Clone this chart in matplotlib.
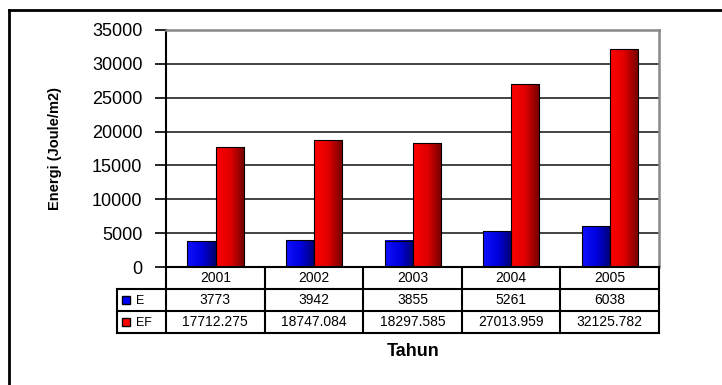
import numpy as np
import matplotlib.pyplot as plt
from matplotlib.lines import Line2D
from matplotlib.patches import Rectangle
from matplotlib.colors import LinearSegmentedColormap

# data
years = ['2001', '2002', '2003', '2004', '2005']
e_vals = [3773, 3942, 3855, 5261, 6038]
ef_vals = [17712.275, 18747.084, 18297.585, 27013.959, 32125.782]
e_text = ['3773', '3942', '3855', '5261', '6038']
ef_text = ['17712.275', '18747.084', '18297.585', '27013.959', '32125.782']
series = ['E', 'EF']

plt.rcParams['font.family'] = ['Liberation Sans', 'DejaVu Sans']

W, H = 722, 385
fig = plt.figure(figsize=(7.22, 3.85), dpi=100)


def box(x0, y0, x1, y1):
    # pixel box (top-left origin) -> figure fraction
    return [x0 / W, 1 - y1 / H, (x1 - x0) / W, (y1 - y0) / H]


blue_cm = LinearSegmentedColormap.from_list('b', ['#1010ff', '#0000e0', '#000070'])
red_cm = LinearSegmentedColormap.from_list('r', ['#ff0000', '#e00000', '#700000'])
grad = np.linspace(0, 1, 64).reshape(1, -1)

ax = fig.add_axes(box(166, 30, 659, 267))
x = np.arange(len(years))
bw = 0.285
offs = [-0.14, 0.145]

for vals, off, cm in [(e_vals, offs[0], blue_cm), (ef_vals, offs[1], red_cm)]:
    for xi, v in zip(x, vals):
        ax.imshow(grad, extent=[xi + off - bw / 2, xi + off + bw / 2, 0, v],
                  cmap=cm, aspect='auto', zorder=2)
    ax.bar(x + off, vals, width=bw, fill=False, edgecolor='black', lw=0.8, zorder=3)

ax.set_xlim(-0.5, 4.5)
ax.set_ylim(0, 35000)
ax.set_yticks(range(0, 35001, 5000))
ax.set_xticks([])
ax.yaxis.grid(True, color='#222222', lw=1.2)
ax.set_axisbelow(True)
ax.tick_params(axis='y', direction='out', length=8, width=1.2, labelsize=13, pad=9)
ax.spines['left'].set_linewidth(1.5)
ax.spines['bottom'].set_linewidth(1.5)
for s in ['top', 'right']:
    ax.spines[s].set_color('#888888')
    ax.spines[s].set_linewidth(1.8)

# data table under the plot
tb = fig.add_axes(box(166, 267, 659, 333))
tb.set_xlim(-0.5, 4.5)
tb.set_ylim(3, 0)
tb.axis('off')
lk = dict(color='black', lw=1.5, clip_on=False)
for r in [1, 2, 3]:
    tb.plot([-1.0, 4.5], [r, r], **lk)
tb.plot([-1.0, -1.0], [1, 3], **lk)
for k in range(len(years) + 1):
    tb.plot([k - 0.5, k - 0.5], [0, 3], **lk)

for i in range(len(years)):
    tb.text(i, 0.5, years[i], ha='center', va='center', fontsize=10)
    tb.text(i, 1.5, e_text[i], ha='center', va='center', fontsize=10)
    tb.text(i, 2.5, ef_text[i], ha='center', va='center', fontsize=10)

for r, (name, c) in enumerate(zip(series, ['#0000ff', '#ff0000'])):
    tb.add_patch(Rectangle((-0.95, r + 1.5 - 0.16), 0.08, 0.32, facecolor=c,
                           edgecolor='black', lw=1, clip_on=False))
    tb.text(-0.80, r + 1.55, name, ha='left', va='center', fontsize=9)

fig.text(55 / W, 1 - 148 / H, 'Energi (Joule/m2)', rotation=90, fontweight='bold',
         fontsize=10.5, ha='center', va='center',
         family=['Liberation Sans Narrow', 'Liberation Sans'])
fig.text(413 / W, 1 - 352 / H, 'Tahun', fontweight='bold', fontsize=13,
         ha='center', va='center')

# outer chart frame
fig.add_artist(Line2D([9 / W, 9 / W], [0, 1 - 10 / H], color='black', lw=2))
fig.add_artist(Line2D([9 / W, 1], [1 - 10 / H, 1 - 10 / H], color='black', lw=2))

fig.savefig('out.png', dpi=100)
